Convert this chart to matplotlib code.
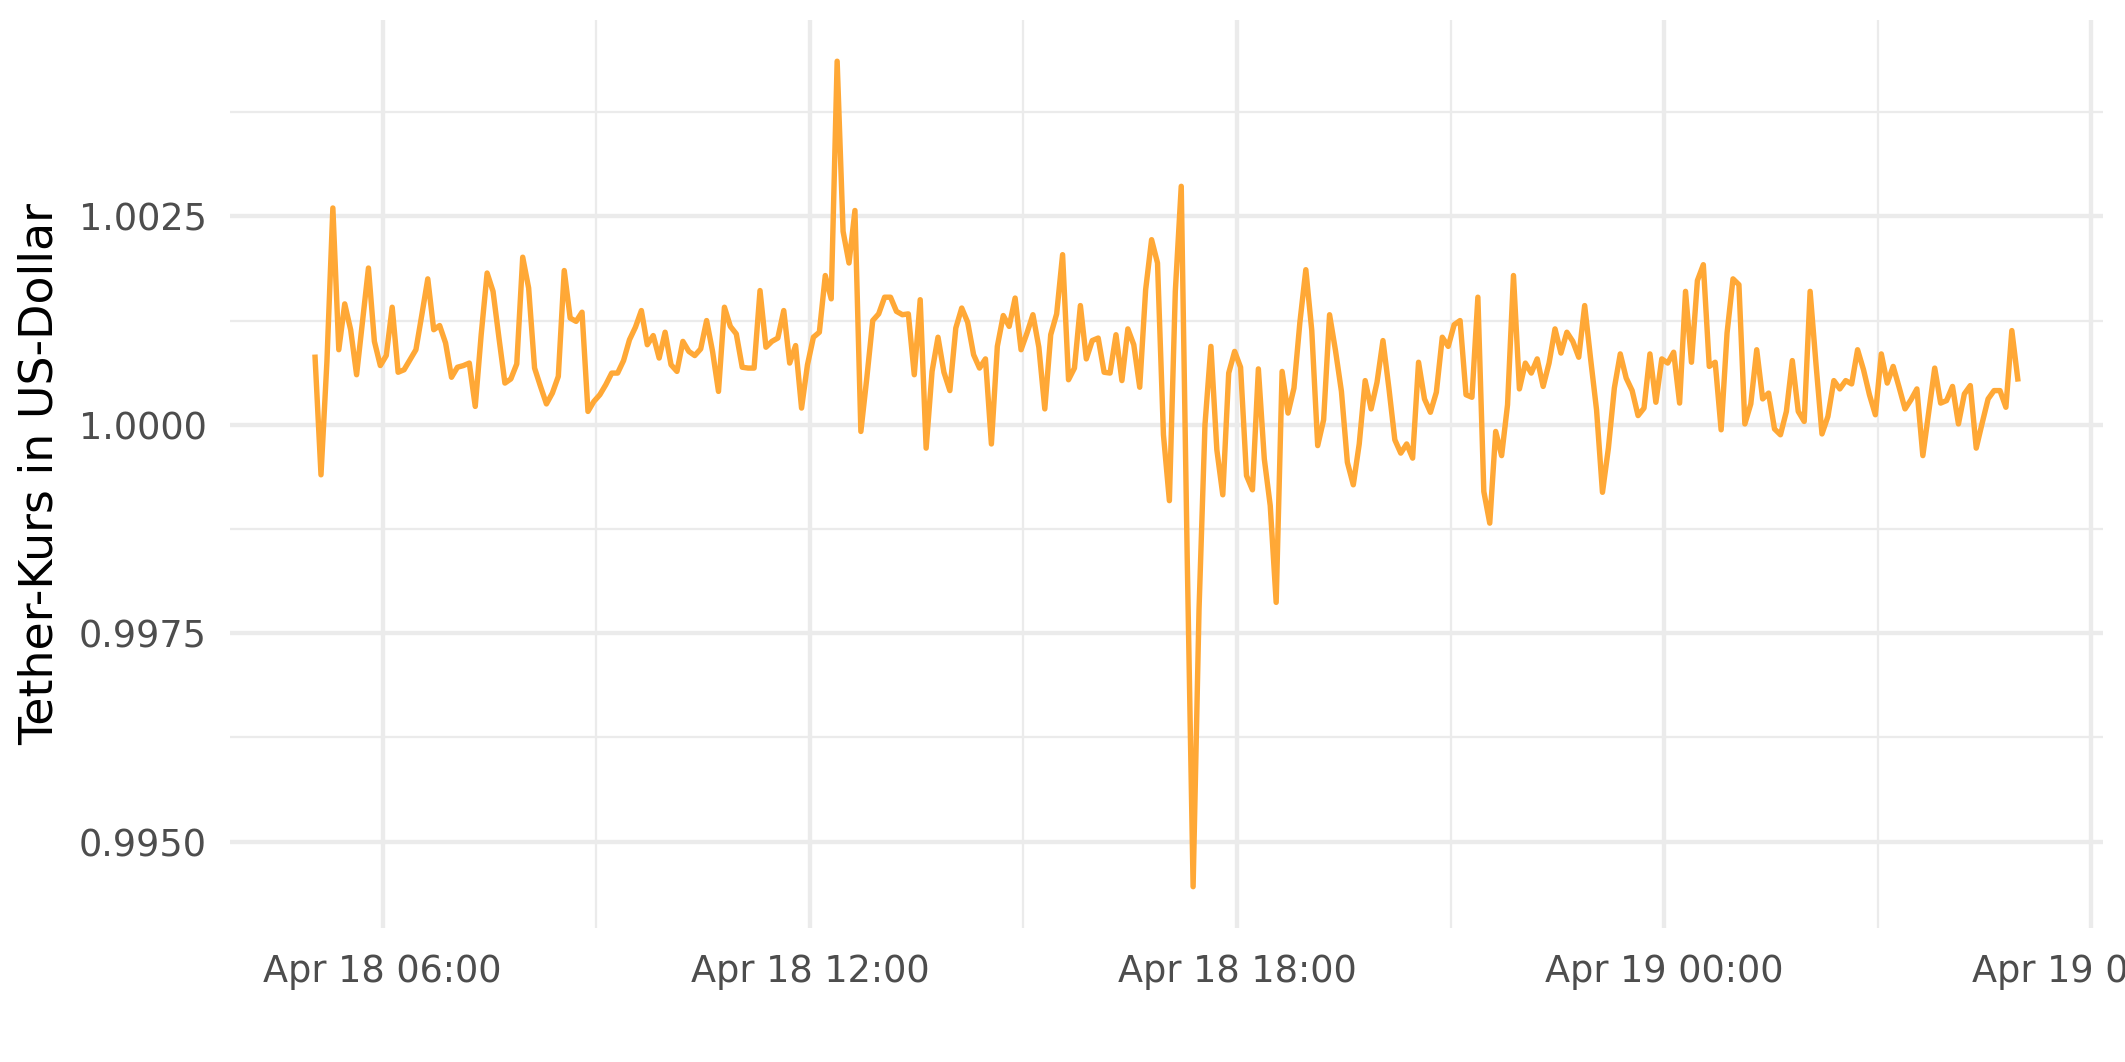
import numpy as np
import pandas as pd
import matplotlib
matplotlib.use("Agg")
from matplotlib import pyplot as plt
import matplotlib.dates as mdates
from matplotlib.ticker import FixedLocator, FormatStrFormatter

# Tether price in USD, 5-minute steps starting Apr 18 05:03
start_time = "2024-04-18 05:03"
price = [
    1.00081, 0.99940, 1.00076, 1.00260, 1.00090, 1.00145, 1.00114, 1.00060, 1.00124, 1.00188,
    1.00100, 1.00071, 1.00083, 1.00141, 1.00063, 1.00066, 1.00078, 1.00090, 1.00132, 1.00175,
    1.00114, 1.00119, 1.00098, 1.00057, 1.00069, 1.00071, 1.00074, 1.00022, 1.00108, 1.00182,
    1.00160, 1.00104, 1.00050, 1.00055, 1.00073, 1.00201, 1.00164, 1.00068, 1.00046, 1.00025,
    1.00038, 1.00058, 1.00185, 1.00128, 1.00124, 1.00135, 1.00016, 1.00028, 1.00036, 1.00048,
    1.00062, 1.00062, 1.00077, 1.00102, 1.00117, 1.00137, 1.00096, 1.00107, 1.00080, 1.00111,
    1.00072, 1.00064, 1.00100, 1.00088, 1.00083, 1.00091, 1.00125, 1.00088, 1.00040, 1.00141,
    1.00118, 1.00109, 1.00069, 1.00068, 1.00068, 1.00161, 1.00093, 1.00100, 1.00104, 1.00137,
    1.00074, 1.00095, 1.00020, 1.00072, 1.00105, 1.00111, 1.00179, 1.00151, 1.00436, 1.00232,
    1.00194, 1.00257, 0.99992, 1.00056, 1.00125, 1.00133, 1.00153, 1.00153, 1.00136, 1.00132,
    1.00133, 1.00060, 1.00150, 0.99972, 1.00064, 1.00105, 1.00063, 1.00041, 1.00116, 1.00140,
    1.00123, 1.00084, 1.00068, 1.00079, 0.99977, 1.00094, 1.00131, 1.00118, 1.00152, 1.00090,
    1.00110, 1.00132, 1.00093, 1.00019, 1.00108, 1.00133, 1.00204, 1.00054, 1.00068, 1.00143,
    1.00079, 1.00101, 1.00104, 1.00063, 1.00062, 1.00108, 1.00053, 1.00115, 1.00096, 1.00045,
    1.00162, 1.00222, 1.00194, 0.99988, 0.99909, 1.00160, 1.00286, 0.99843, 0.99446, 0.99779,
    1.00000, 1.00094, 0.99970, 0.99916, 1.00062, 1.00088, 1.00069, 0.99939, 0.99922, 1.00067,
    0.99959, 0.99903, 0.99787, 1.00064, 1.00014, 1.00044, 1.00123, 1.00186, 1.00113, 0.99975,
    1.00006, 1.00132, 1.00089, 1.00040, 0.99955, 0.99928, 0.99977, 1.00053, 1.00019, 1.00051,
    1.00101, 1.00044, 0.99982, 0.99966, 0.99977, 0.99960, 1.00075, 1.00031, 1.00015, 1.00039,
    1.00105, 1.00094, 1.00120, 1.00125, 1.00036, 1.00033, 1.00153, 0.99920, 0.99882, 0.99992,
    0.99963, 1.00024, 1.00179, 1.00043, 1.00074, 1.00062, 1.00079, 1.00046, 1.00074, 1.00115,
    1.00086, 1.00111, 1.00100, 1.00081, 1.00143, 1.00079, 1.00018, 0.99919, 0.99972, 1.00044,
    1.00085, 1.00056, 1.00041, 1.00011, 1.00020, 1.00085, 1.00027, 1.00079, 1.00074, 1.00087,
    1.00026, 1.00160, 1.00075, 1.00173, 1.00192, 1.00070, 1.00075, 0.99994, 1.00110, 1.00175,
    1.00168, 1.00001, 1.00025, 1.00090, 1.00031, 1.00038, 0.99995, 0.99988, 1.00016, 1.00077,
    1.00016, 1.00004, 1.00160, 1.00072, 0.99989, 1.00010, 1.00053, 1.00043, 1.00053, 1.00049,
    1.00090, 1.00066, 1.00036, 1.00012, 1.00085, 1.00050, 1.00070, 1.00045, 1.00019, 1.00030,
    1.00043, 0.99963, 1.00016, 1.00068, 1.00026, 1.00029, 1.00046, 1.00001, 1.00037, 1.00047,
    0.99972, 1.00002, 1.00031, 1.00041, 1.00041, 1.00021, 1.00113, 1.00055,
]
y_ticks = [0.9950, 0.9975, 1.0000, 1.0025]
y_minor = [0.99625, 0.99875, 1.00125, 1.00375]
x_ticks = ["2024-04-18 06:00", "2024-04-18 12:00", "2024-04-18 18:00",
           "2024-04-19 00:00", "2024-04-19 06:00"]
x_minor = ["2024-04-18 09:00", "2024-04-18 15:00", "2024-04-18 21:00",
           "2024-04-19 03:00"]

times = pd.date_range(start_time, periods=len(price), freq="5min")

fig = plt.figure(figsize=(2125 / 300, 1062 / 300), dpi=300)
ax = fig.add_axes([0.1082, 0.1262, 0.8814, 0.855])

ax.plot(times, price, color="#FFA836", linewidth=1.3)
ax.margins(x=0.05, y=0.05)

ax.yaxis.set_major_locator(FixedLocator(y_ticks))
ax.yaxis.set_minor_locator(FixedLocator(y_minor))
ax.yaxis.set_major_formatter(FormatStrFormatter("%.4f"))
ax.xaxis.set_major_locator(FixedLocator(mdates.date2num(pd.to_datetime(x_ticks))))
ax.xaxis.set_minor_locator(FixedLocator(mdates.date2num(pd.to_datetime(x_minor))))
ax.xaxis.set_major_formatter(mdates.DateFormatter("%b %d %H:%M"))

# ggplot-like minimal theme
ax.grid(which="major", color="#EBEBEB", linewidth=1.05)
ax.grid(which="minor", color="#EBEBEB", linewidth=0.55)
ax.set_axisbelow(True)
for s in ax.spines.values():
    s.set_visible(False)
ax.tick_params(which="both", length=0)
ax.tick_params(axis="y", labelsize=8.8, labelcolor="#4D4D4D", pad=5.5)
ax.tick_params(axis="x", labelsize=8.8, labelcolor="#4D4D4D", pad=6)

fig.text(40 / 2125, 0.1262 + 0.855 / 2, "Tether-Kurs in US-Dollar", fontsize=11,
         rotation=90, ha="center", va="center")

fig.savefig("out.png", dpi=300, facecolor="white")
